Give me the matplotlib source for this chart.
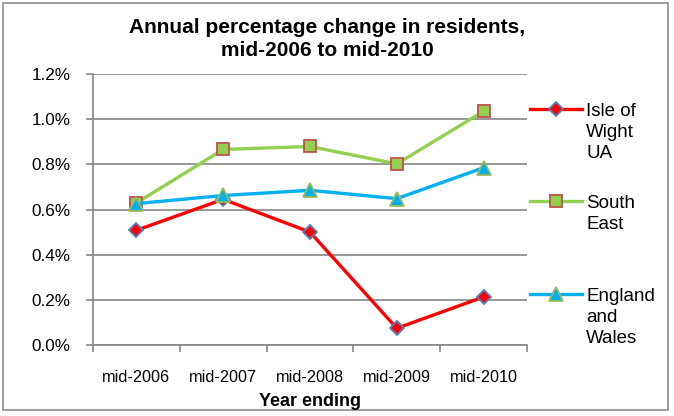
import matplotlib
matplotlib.use("Agg")
import matplotlib.pyplot as plt
from matplotlib.lines import Line2D
from matplotlib.patches import Rectangle
from matplotlib.ticker import FuncFormatter, FixedLocator

plt.rcParams['font.family'] = ['Liberation Sans', 'DejaVu Sans']

categories = ["mid-2006", "mid-2007", "mid-2008", "mid-2009", "mid-2010"]
isle_of_wight = [0.508, 0.645, 0.500, 0.074, 0.213]
south_east = [0.629, 0.866, 0.879, 0.802, 1.035]
england_wales = [0.626, 0.662, 0.685, 0.648, 0.785]
series_labels = ["Isle of\nWight\nUA", "South\nEast", "England\nand\nWales"]
yticks = [0.0, 0.2, 0.4, 0.6, 0.8, 1.0, 1.2]

W, H = 674, 416
fig = plt.figure(figsize=(W / 100, H / 100), dpi=100)
fig.patch.set_facecolor("white")
fig.patches.append(Rectangle((3 / W, 1 - 410 / H), 665 / W, 407 / H,
                             transform=fig.transFigure, fill=False,
                             edgecolor="#8c8c8c", linewidth=1.2))

ax = fig.add_axes([93 / W, 1 - 345 / H, 434 / W, 271 / H])
grid_c = "#868686"
x = list(range(len(categories)))

styles = [
    dict(color="#FF0000", marker="D", markerfacecolor="#FF0000", markeredgecolor="#4F81BD", markersize=7),
    dict(color="#92D050", marker="s", markerfacecolor="#92D050", markeredgecolor="#C0504D", markersize=8),
    dict(color="#00B0F0", marker="^", markerfacecolor="#00B0F0", markeredgecolor="#9BBB59", markersize=10),
]
data = [isle_of_wight, south_east, england_wales]
for vals, st in zip(data, styles):
    ax.plot(x, vals, linewidth=2.4, markeredgewidth=1.3, zorder=3, **st)

ax.set_xlim(-0.5, len(categories) - 0.5)
ax.set_ylim(0, 1.2)
ax.yaxis.set_major_locator(FixedLocator(yticks))
ax.yaxis.set_major_formatter(FuncFormatter(lambda v, p: f"{v:.1f}%"))
ax.set_xticks(x)
ax.set_xticklabels(categories)
ax.set_xticks([i - 0.5 for i in range(len(categories) + 1)], minor=True)
ax.tick_params(axis="x", which="major", length=0, labelsize=11.7, pad=18)
ax.tick_params(axis="x", which="minor", length=5, color=grid_c, width=1.2)
ax.tick_params(axis="y", length=5, color=grid_c, width=1.2, labelsize=12.3, pad=11)
ax.grid(axis="y", color=grid_c, linewidth=1.2)
ax.set_axisbelow(True)
for s in ["top", "right"]:
    ax.spines[s].set_visible(False)
for s in ["left", "bottom"]:
    ax.spines[s].set_color(grid_c)
    ax.spines[s].set_linewidth(1.2)

fig.text(327 / W, 1 - 18 / H, "Annual percentage change in residents,\nmid-2006 to mid-2010",
         ha="center", va="top", fontsize=15, fontweight="bold", linespacing=1.25)
fig.text(310 / W, 1 - 402 / H, "Year ending", ha="center", va="center",
         fontsize=13, fontweight="bold")

legend_y = [109, 201, 294]
for ly, lab, st in zip(legend_y, series_labels, styles):
    yy = 1 - ly / H
    fig.add_artist(Line2D([530 / W, 582 / W], [yy, yy], transform=fig.transFigure,
                          color=st["color"], linewidth=2.4))
    fig.add_artist(Line2D([556 / W], [yy], transform=fig.transFigure, linestyle="none",
                          marker=st["marker"], markerfacecolor=st["markerfacecolor"],
                          markeredgecolor=st["markeredgecolor"], markersize=st["markersize"],
                          markeredgewidth=1.3))
    fig.text(586 / W, 1 - (ly - 6) / H, lab, ha="left", va="top", fontsize=13.5,
             linespacing=1.3)

fig.savefig("out.png", dpi=100, facecolor="white")
